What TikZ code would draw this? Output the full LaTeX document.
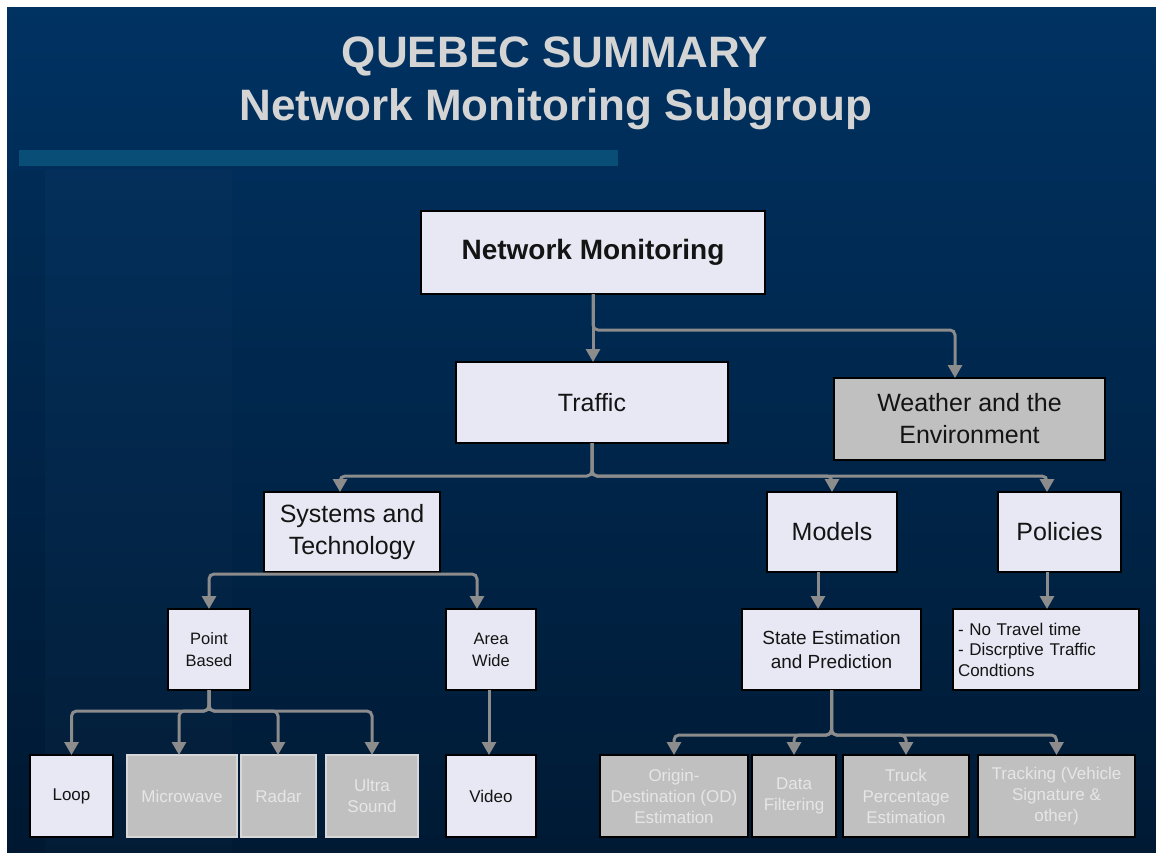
\documentclass[tikz,border=0pt]{standalone}
\usepackage{fontspec}
\setmainfont{Liberation Sans}
\usetikzlibrary{arrows.meta,calc}
\definecolor{bgtop}{RGB}{0,50,98}
\definecolor{bgbot}{RGB}{0,26,52}
\definecolor{boxfill}{RGB}{232,232,244}
\definecolor{grayfill}{RGB}{192,192,192}
\definecolor{conncol}{RGB}{140,140,140}
\definecolor{titlecol}{RGB}{212,212,212}
\definecolor{barcol}{RGB}{8,78,118}
\definecolor{ghost}{RGB}{230,230,230}
\definecolor{darktext}{RGB}{20,20,20}
\begin{document}
\begin{tikzpicture}[x=1pt,y=-1pt,
  box/.style={draw=black,line width=1.3pt,fill=boxfill,inner sep=0pt,outer sep=0pt,align=center,text=darktext},
  wgray/.style={box,fill=grayfill},
  ghostbox/.style={box,fill=grayfill,text=ghost,font=\fontsize{17}{21}\selectfont},
  ghostboxl/.style={ghostbox,draw={rgb,255:red,215;green,215;blue,215}},
  bigtxt/.style={font=\fontsize{25}{32}\selectfont},
  midtxt/.style={font=\fontsize{19}{24}\selectfont},
  smalltxt/.style={font=\fontsize{16.5}{22}\selectfont},
  titletxt/.style={text=titlecol,font=\fontsize{44}{50}\selectfont\bfseries,anchor=base,inner sep=0pt},
  conn/.style={draw=conncol,line width=3pt,rounded corners=5pt,-{Triangle[width=14pt,length=13pt]}}
]
\useasboundingbox (0,0) rectangle (1156,852);
\fill[white] (0,0) rectangle (1156,852);
\shade[top color=bgtop,bottom color=bgbot] (7,7) rectangle (1156,852);
\fill[black,opacity=0.04] (7,170) rectangle (45,852);
\fill[white,opacity=0.012] (45,170) rectangle (232,852);
\fill[barcol] (19,150) rectangle (618,166);

\node[titletxt] (t1) at (555,67) {QUEBEC SUMMARY};
\node[titletxt] (t2) at (556,120) {Network Monitoring Subgroup};

% level 0-1
\node[box,minimum width=344,minimum height=83,font=\fontsize{28}{32}\selectfont\bfseries] (nm) at (593,252.5) {Network Monitoring};
\node[box,bigtxt,minimum width=272,minimum height=81] (traffic) at (592,402.5) {Traffic};
\node[wgray,bigtxt,minimum width=271,minimum height=82] (weather) at (969.5,419) {Weather and the\\Environment};

% level 2
\node[box,bigtxt,minimum width=176,minimum height=80] (systems) at (352,532) {Systems and\\Technology};
\node[box,bigtxt,minimum width=130,minimum height=80] (models) at (832,532) {Models};
\node[box,bigtxt,minimum width=123,minimum height=80] (policies) at (1059.5,532) {Policies};

% level 3
\node[box,smalltxt,minimum width=82,minimum height=81] (point) at (209,649.5) {Point\\Based};
\node[box,smalltxt,minimum width=90,minimum height=81] (area) at (491,649.5) {Area\\Wide};
\node[box,midtxt,minimum width=179,minimum height=81] (state) at (831.5,649.5) {State Estimation\\and Prediction};
\node[box,font=\fontsize{17}{20.5}\selectfont,align=left,text width=176pt,inner xsep=5pt,minimum height=81] (plist) at (1046,649.5) {- No Travel time\\- Discrptive Traffic\\Condtions};

% level 4
\node[box,font=\fontsize{17}{21}\selectfont,minimum width=83,minimum height=82] (loop) at (71.5,796) {Loop};
\node[ghostboxl,minimum width=110,minimum height=82] (micro) at (182,796) {Microwave};
\node[ghostboxl,minimum width=75,minimum height=82] (radar) at (278.5,796) {Radar};
\node[ghostboxl,minimum width=92,minimum height=82] (ultra) at (372,796) {Ultra\\Sound};
\node[box,font=\fontsize{17}{21}\selectfont,minimum width=90,minimum height=82] (video) at (491,796) {Video};
\node[ghostbox,minimum width=148,minimum height=82] (od) at (674,796) {Origin-\\Destination (OD)\\Estimation};
\node[ghostbox,minimum width=84,minimum height=82] (df) at (794,796) {Data\\Filtering};
\node[ghostbox,minimum width=126,minimum height=82] (truck) at (906,796) {Truck\\Percentage\\Estimation};
\node[ghostbox,minimum width=157,minimum height=82] (track) at (1056.5,796) {Tracking (Vehicle\\Signature \&\\other)};

% connectors
\draw[conn] (nm.south) -- (nm.south |- traffic.north);
\draw[conn] (nm.south) -- ++(0,36) -| ([xshift=-14.5pt]weather.north);

\draw[conn] (traffic.south) -- ++(0,33) -| ([xshift=-12pt]systems.north);
\draw[conn] (traffic.south) -- ++(0,33) -| (models.north);
\draw[conn] (traffic.south) -- ++(0,33) -| ([xshift=-12.5pt]policies.north);

\draw[conn] ([yshift=-2pt]systems.south) -| (point.north);
\draw[conn] ([yshift=-2pt]systems.south) -| ([xshift=-14pt]area.north);

\draw[conn] ([xshift=-14pt]models.south) -- ([xshift=-14pt]models.south |- state.north);
\draw[conn] ([xshift=-12.5pt]policies.south) -- ([xshift=-12.5pt]policies.south |- plist.north);

\draw[conn] (point.south) -- ++(0,21) -| (loop.north);
\draw[conn] (point.south) -- ++(0,21) -| ([xshift=-3pt]micro.north);
\draw[conn] (point.south) -- ++(0,21) -| ([xshift=-0.5pt]radar.north);
\draw[conn] (point.south) -- ++(0,21) -| (ultra.north);

\draw[conn] ([xshift=-2pt]area.south) -- ([xshift=-2pt]area.south |- video.north);

\draw[conn] (state.south) -- ++(0,45) -| (od.north);
\draw[conn] (state.south) -- ++(0,45) -| (df.north);
\draw[conn] (state.south) -- ++(0,45) -| (truck.north);
\draw[conn] (state.south) -- ++(0,45) -| (track.north);
\end{tikzpicture}
\end{document}
